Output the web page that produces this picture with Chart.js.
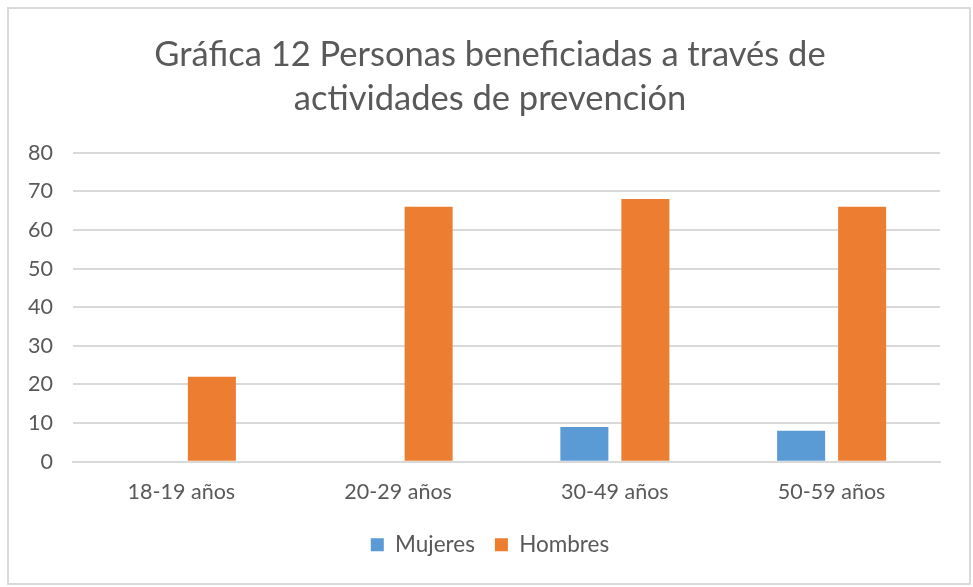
<!DOCTYPE html>
<html>
<head>
<meta charset="utf-8">
<script src="https://cdn.jsdelivr.net/npm/chart.js@4/dist/chart.umd.min.js"></script>
<style>
  html, body { margin: 0; padding: 0; background: #fff; }
  #frame {
    position: absolute; left: 7px; top: 7px; width: 960px; height: 574px;
    border: 2px solid #d9d9d9;
  }
  #wrap { position: absolute; left: 0; top: 0; width: 973px; height: 587px; }
</style>
</head>
<body>
<div id="frame"></div>
<div id="wrap"><canvas id="chart"></canvas></div>
<script>
// Chart data
const categories = ['18-19 años', '20-29 años', '30-49 años', '50-59 años'];
const mujeres = [0, 0, 9, 8];
const hombres = [22, 66, 68, 66];
const titleLines = ['Gráfica 12 Personas beneficiadas a través de', 'actividades de prevención'];

const textColor = '#595959';

const ctx = document.getElementById('chart');
new Chart(ctx, {
    type: 'bar',
    data: {
        labels: categories,
        datasets: [
            {
                label: 'Mujeres',
                data: mujeres,
                backgroundColor: '#5B9BD5',
                categoryPercentage: 0.563,
                barPercentage: 0.787
            },
            {
                label: 'Hombres',
                data: hombres,
                backgroundColor: '#ED7D31',
                categoryPercentage: 0.563,
                barPercentage: 0.787
            }
        ]
    },
    options: {
        responsive: true,
        maintainAspectRatio: false,
        animation: false,
        layout: {
            padding: { left: 7, right: 0, top: 32, bottom: 21 }
        },
        plugins: {
            title: {
                display: true,
                text: titleLines,
                color: textColor,
                font: { family: 'Lato', size: 34.5, weight: 'normal', lineHeight: 1.3 },
                padding: { top: 0, bottom: 31 }
            },
            legend: {
                position: 'bottom',
                labels: {
                    color: textColor,
                    font: { family: 'Lato', size: 22.5 },
                    boxWidth: 13,
                    boxHeight: 13,
                    padding: 20
                }
            },
            tooltip: { enabled: false }
        },
        scales: {
            x: {
                grid: { display: false },
                border: { color: '#d9d9d9', width: 2 },
                ticks: {
                    color: textColor,
                    font: { family: 'Lato', size: 21.5 },
                    padding: 9
                }
            },
            y: {
                min: 0,
                max: 80,
                afterFit: function(scale) {
                    scale.width = 66;
                },
                ticks: {
                    stepSize: 10,
                    color: textColor,
                    font: { family: 'Lato', size: 21.5 },
                    padding: 20
                },
                grid: { color: '#d9d9d9', lineWidth: 2, drawTicks: false },
                border: { display: false }
            },
            // empty right-hand spacer so title and legend centre like the original
            spacer: {
                position: 'right',
                display: true,
                grid: { display: false },
                border: { display: false },
                ticks: { display: false },
                afterFit: function(scale) {
                    scale.width = 33;
                }
            }
        }
    }
});
</script>
</body>
</html>
